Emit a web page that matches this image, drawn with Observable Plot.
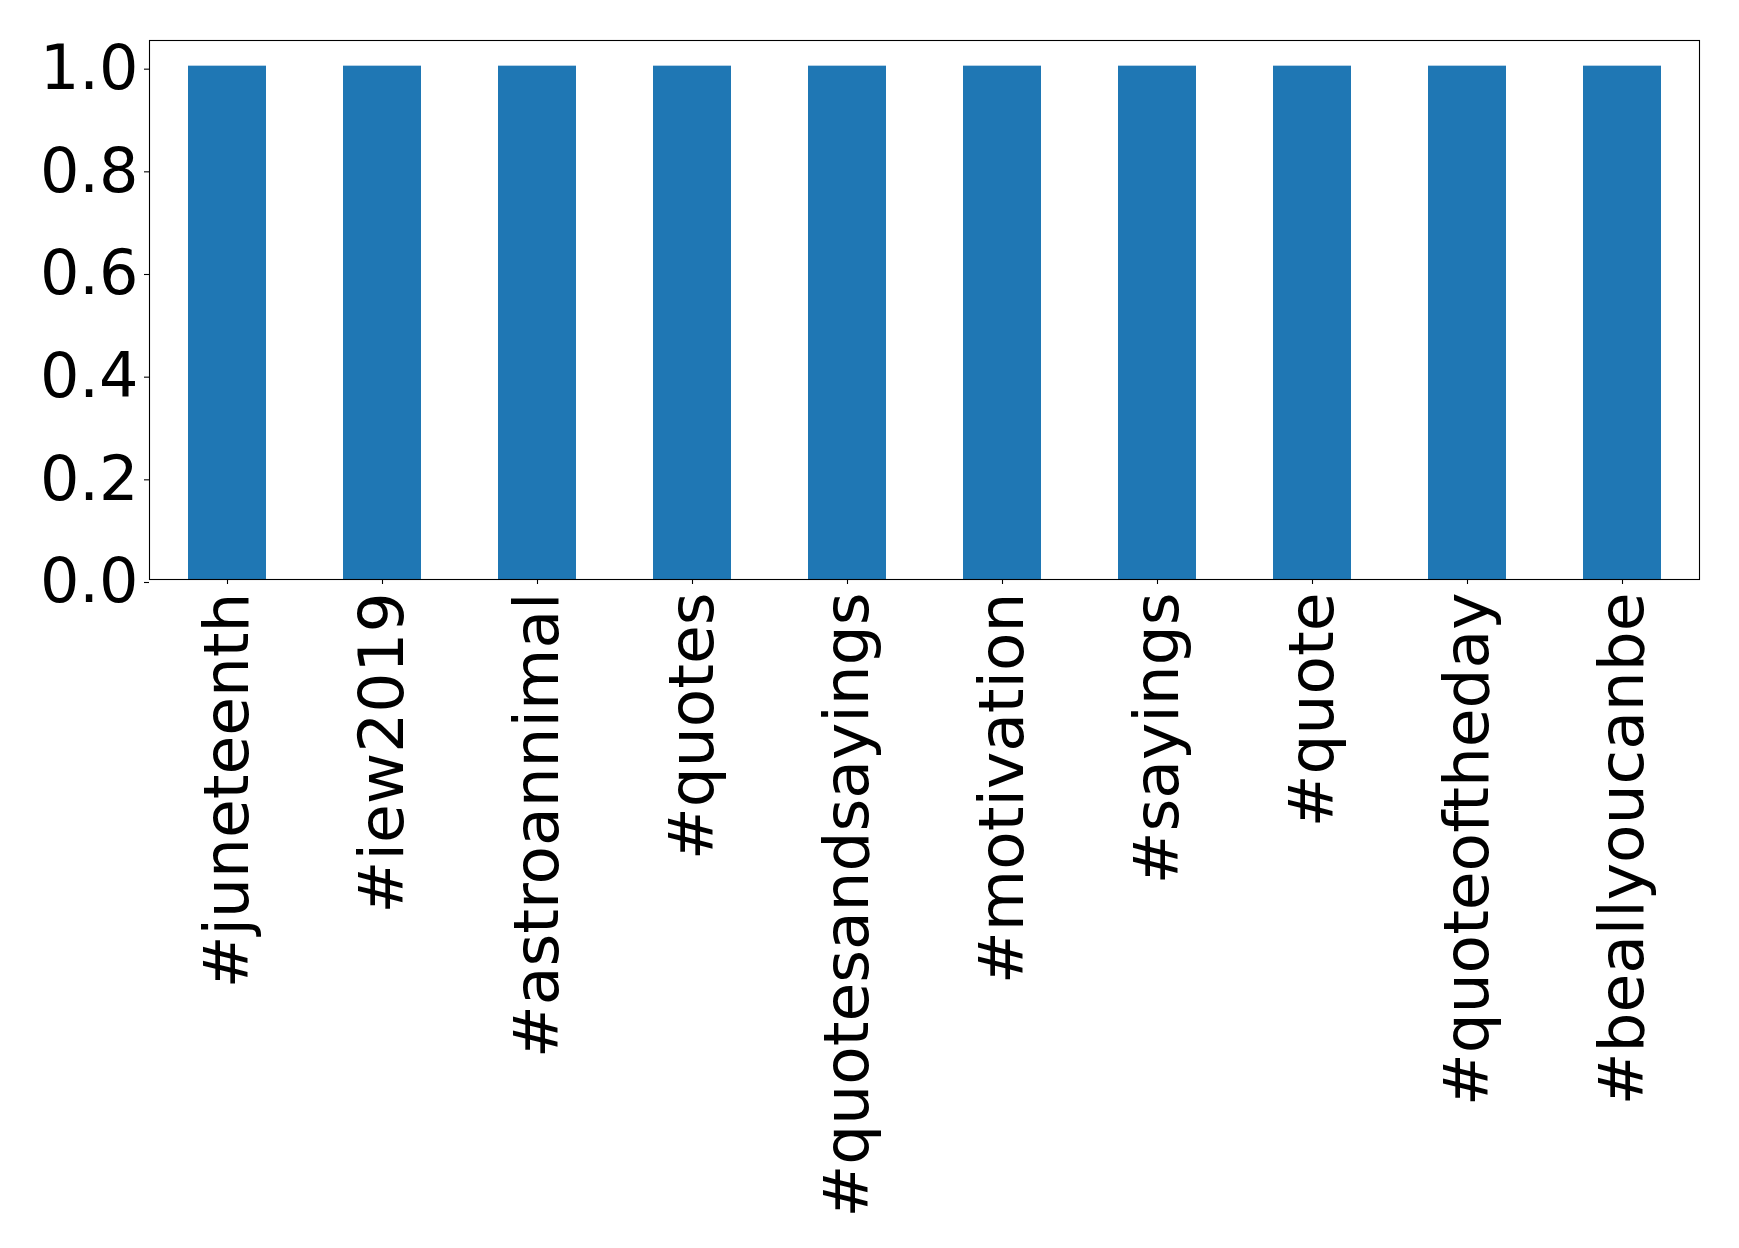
<!DOCTYPE html>
<html>
<head>
<meta charset="utf-8">
<script src="https://cdn.jsdelivr.net/npm/d3@7"></script>
<script src="https://cdn.jsdelivr.net/npm/@observablehq/plot@0.6"></script>
<style>
  html, body { margin: 0; padding: 0; background: #fff; }
  #chart svg { display: block; }
</style>
</head>
<body>
<div id="chart"></div>
<script>
const hashtags = ["#juneteenth", "#iew2019", "#astroannimal", "#quotes", "#quotesandsayings", "#motivation", "#sayings", "#quote", "#quoteoftheday", "#beallyoucanbe"];
const counts = [1, 1, 1, 1, 1, 1, 1, 1, 1, 1];
const yTicks = [0, 0.2, 0.4, 0.6, 0.8, 1.0];

const data = hashtags.map((h, i) => ({tag: h, value: counts[i]}));

const chart = Plot.plot({
  width: 1739,
  height: 1248,
  marginLeft: 149,
  marginRight: 40,
  marginTop: 40,
  marginBottom: 669,
  style: {fontFamily: "DejaVu Sans", background: "#fff", color: "#000"},
  x: {domain: hashtags, paddingInner: 0.5, paddingOuter: 0.25, label: null},
  y: {domain: [0, 1.05], label: null},
  marks: [
    Plot.barY(data, {x: "tag", y: "value", fill: "#1f77b4"}),
    Plot.frame({stroke: "#000", strokeWidth: 1.1}),
    Plot.axisY({ticks: yTicks, tickFormat: d3.format(".1f"), tickSize: 5, tickPadding: 6, fontSize: 62, dy: 3, label: null, strokeWidth: 1.1}),
    Plot.axisX({tickRotate: -90, tickSize: 5, tickPadding: 8, fontSize: 63, label: null, strokeWidth: 1.1})
  ]
});
document.getElementById("chart").appendChild(chart);
</script>
</body>
</html>
